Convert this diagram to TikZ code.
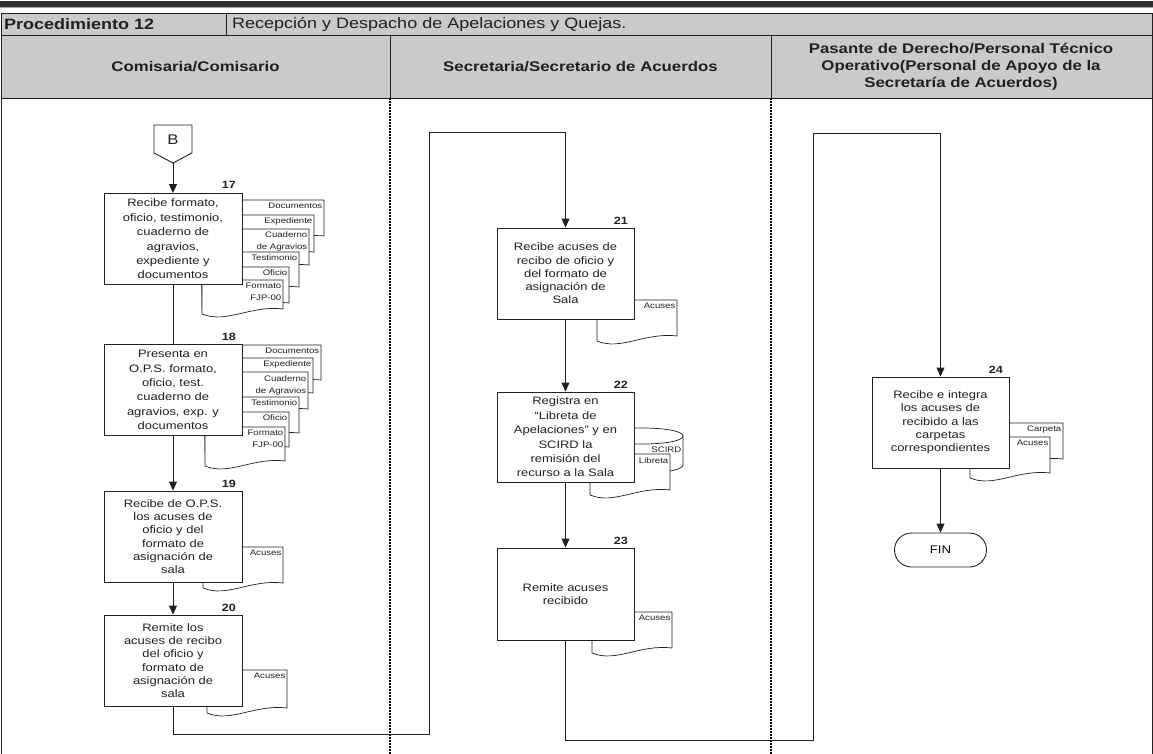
\documentclass[tikz,border=0pt]{standalone}
\usepackage{fontspec}
\setmainfont{Liberation Sans}[FakeStretch=1.2]
\usetikzlibrary{arrows.meta}
\definecolor{hdrgray}{HTML}{CACACA}
\definecolor{ink}{HTML}{231F20}
\definecolor{barc}{HTML}{2E2E2E}
\tikzset{
 box/.style={draw=ink, line width=0.9pt, fill=white, minimum width=138pt, minimum height=91pt, align=center, inner sep=2pt, font=\fontsize{10.8}{13.3}\selectfont, text=ink},
 loose/.style={font=\fontsize{10.8}{14.4}\selectfont},
 docst/.style={draw=ink, line width=0.7pt, fill=white},
 doclbl/.style={inner sep=0pt, align=right, font=\fontsize{8}{12}\selectfont, text=ink},
 num/.style={inner sep=0pt, font=\bfseries\fontsize{10.5}{12}\selectfont, anchor=base east, text=ink},
 conn/.style={draw=ink, line width=0.9pt},
 arr/.style={conn, -{Triangle[length=9pt,width=8pt]}},
 lane/.style={draw=black, line width=1.5pt, dash pattern=on 2pt off 1pt},
 hdr/.style={font=\bfseries\fontsize{14}{17}\selectfont, align=center, text=ink, inner sep=0pt},
 ttl/.style={font=\fontsize{15}{18}\selectfont, text=ink, inner sep=0pt, anchor=west},
 term/.style={draw=ink, line width=0.9pt, fill=white, minimum width=92pt, minimum height=34pt, rounded corners=17pt, font=\fontsize{11}{13}\selectfont},
 rule/.style={draw=ink, line width=0.9pt},
}
\newcommand\docshp[6]{%
 \draw[docst] (#2,#5+5) -- (#2,#3) -- (#4,#3) -- (#4,#5) .. controls ({#2+0.6*(#4-#2)},#5-4) and ({#2+0.3*(#4-#2)},#5+15) .. (#2,#5+5) -- cycle;
 \node[doclbl, anchor=north east] (#1) at (#4-1.5,#3+3) {#6};
}
\begin{document}
\begin{tikzpicture}[x=1pt,y=-1pt]
\useasboundingbox (0,0) rectangle (1153,754);
% top bar
\fill[barc] (0,1) rectangle (1153,7);
\fill[gray!70] (0,7) rectangle (1153,8);
% header rows
\fill[hdrgray] (1,13) rectangle (1152,98);
\draw[rule] (1,13) -- (1152,13);
\draw[rule] (1,35) -- (1152,35);
\draw[rule] (1,98) -- (1152,98);
\draw[rule] (1,13) -- (1,754);
\draw[rule] (1152,13) -- (1152,754);
\draw[rule] (226,13) -- (226,35);
\draw[rule] (390,35) -- (390,98);
\draw[rule] (771,35) -- (771,98);
\node[ttl, font=\bfseries\fontsize{15}{18}\selectfont] (t1) at (4,24.5) {Procedimiento 12};
\node[ttl] (t2) at (232,24.5) {Recepción y Despacho de Apelaciones y Quejas.};
\node[hdr] (h1) at (195.5,66.5) {Comisaria/Comisario};
\node[hdr] (h2) at (580.5,66.5) {Secretaria/Secretario de Acuerdos};
\node[hdr] (h3) at (961,66.5) {Pasante de Derecho/Personal Técnico\\Operativo(Personal de Apoyo de la\\Secretaría de Acuerdos)};
% lanes
\draw[lane] (390,98) -- (390,754);
\draw[lane] (771,98) -- (771,754);

% off-page connector B
\draw[conn, fill=white] (154,125) -- (192,125) -- (192,153) -- (173,163) -- (154,153) -- cycle;
\node[font=\fontsize{14}{16}\selectfont, text=ink, inner sep=0pt] (B) at (173,140) {B};
\coordinate (Btip) at (173,163);

% stack 17
\docshp{d17a}{202}{200}{324}{236}{Documentos}
\docshp{d17b}{202}{215}{314}{252}{Expediente}
\docshp{d17c}{202}{229}{309}{265}{Cuaderno\\de Agravios}
\docshp{d17d}{202}{252}{299}{287}{Testimonio}
\docshp{d17e}{202}{267}{289}{303}{Oficio}
\docshp{d17f}{202}{280}{283}{309}{Formato\\FJP-00}
% stack 18
\docshp{d18a}{205}{345}{321}{380}{Documentos}
\docshp{d18b}{205}{358}{313}{393}{Expediente}
\docshp{d18c}{205}{372}{308}{409}{Cuaderno\\de Agravios}
\docshp{d18d}{205}{397}{299}{433}{Testimonio}
\docshp{d18e}{205}{412}{289}{447}{Oficio}
\docshp{d18f}{205}{427}{285}{461}{Formato\\FJP-00}
% other documents
\docshp{d19}{203}{547}{283}{583}{Acuses}
\docshp{d20}{207}{670}{287}{708}{Acuses}
\docshp{d21}{597}{300}{677}{336}{Acuses}
% SCIRD cylinder
\draw[docst] (600,436) .. controls (600,425.3) and (683,425.3) .. (683,436) -- (683,465) .. controls (683,475.7) and (600,475.7) .. (600,465) -- cycle;
\draw[docst] (600,436) .. controls (600,446.7) and (683,446.7) .. (683,436);
\node[doclbl, anchor=base east] (scird) at (681.5,452) {SCIRD};
\docshp{d22}{590}{454}{670}{490}{Libreta}
\docshp{d23}{592}{612}{672}{648}{Acuses}
\docshp{d24a}{970}{423}{1063}{459}{Carpeta}
\docshp{d24b}{970}{437}{1050}{473}{Acuses}

% boxes
\node[box, loose] (b17) at (173,239) {Recibe formato,\\oficio, testimonio,\\cuaderno de\\agravios,\\expediente y\\documentos};
\node[box, loose] (b18) at (173,390) {Presenta en\\O.P.S. formato,\\oficio, test.\\cuaderno de\\agravios, exp. y\\documentos};
\node[box] (b19) at (173,536.5) {Recibe de O.P.S.\\los acuses de\\oficio y del\\formato de\\asignación de\\sala};
\node[box] (b20) at (173,660.5) {Remite los\\acuses de recibo\\del oficio y\\formato de\\asignación de\\sala};
\node[box, minimum width=137pt] (b21) at (565.5,273.5) {Recibe acuses de\\recibo de oficio y\\del formato de\\asignación de\\Sala};
\node[box, loose, minimum width=137pt, minimum height=90pt] (b22) at (565.5,437) {Registra en\\“Libreta de\\Apelaciones” y en\\SCIRD la\\remisión del\\recurso a la Sala};
\node[box, minimum width=137pt, minimum height=92pt] (b23) at (565.5,594) {Remite acuses\\recibido};
\node[box, minimum width=137pt] (b24) at (940.5,422.5) {Recibe e integra\\los acuses de\\recibido a las\\carpetas\\correspondientes};
\node[term] (fin) at (940.5,550) {FIN};

% step numbers
\node[num] (n17) at (236,189) {17};
\node[num] (n18) at (236,340) {18};
\node[num] (n19) at (236,487) {19};
\node[num] (n20) at (236,611) {20};
\node[num] (n21) at (628,224) {21};
\node[num] (n22) at (628,388) {22};
\node[num] (n23) at (628,544) {23};
\node[num] (n24) at (1003,373) {24};

% connectors
\coordinate (c1) at (429,132);
\coordinate (c2) at (813,133);
\draw[arr] (Btip) -- (b17.north);
\draw[conn] (b17.south) -- (b18.north);
\draw[arr] (b18.south) -- (b19.north);
\draw[arr] (b19.south) -- (b20.north);
\draw[arr] (b20.south) -- ++(0,28) -| (c1) -| (b21.north);
\draw[arr] (b21.south) -- (b22.north);
\draw[arr] (b22.south) -- (b23.north);
\draw[arr] (b23.south) -- ++(0,100) -| (c2) -| (b24.north);
\draw[arr] (b24.south) -- (fin.north);
\end{tikzpicture}
\end{document}
